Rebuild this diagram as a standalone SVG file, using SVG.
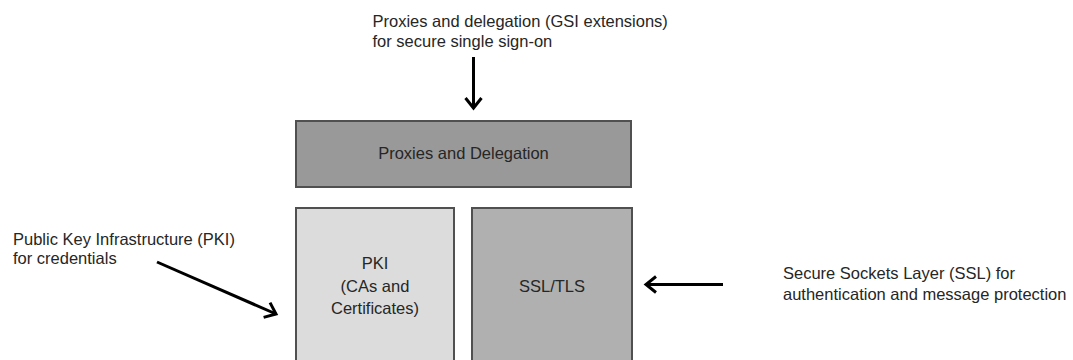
<svg xmlns="http://www.w3.org/2000/svg" width="1073" height="360" viewBox="0 0 1073 360">
  <style>
    .box { stroke: #505050; stroke-width: 2; }
    .label { font-family: "Liberation Sans", Arial, sans-serif; font-size: 16.5px; fill: #262626; }
    .mid { text-anchor: middle; }
    .conn { stroke: #000000; stroke-width: 3; fill: none; marker-end: url(#chevron); }
  </style>
  <defs>
    <marker id="chevron" markerUnits="userSpaceOnUse" markerWidth="24" markerHeight="24" viewBox="-14 -12 16 24" refX="0" refY="0" orient="auto">
      <path d="M-10,-8 L0,0 L-10,8" fill="none" stroke="#000000" stroke-width="3" stroke-linejoin="miter"/>
    </marker>
  </defs>
  <rect width="1073" height="360" fill="#ffffff"/>

  <!-- layer boxes -->
  <g id="proxies-delegation">
    <rect class="box" x="296" y="121" width="335" height="66" fill="#999999"/>
    <text class="label mid" x="463.5" y="159">Proxies and Delegation</text>
  </g>
  <g id="pki">
    <rect class="box" x="296" y="208" width="158" height="170" fill="#dcdcdc"/>
    <text class="label mid" x="375" y="269">PKI</text>
    <text class="label mid" x="375" y="291.5">(CAs and</text>
    <text class="label mid" x="375" y="314">Certificates)</text>
  </g>
  <g id="ssl-tls">
    <rect class="box" x="472" y="208" width="160" height="170" fill="#b0b0b0"/>
    <text class="label mid" x="552" y="292">SSL/TLS</text>
  </g>

  <!-- annotations -->
  <g id="note-gsi">
    <text class="label" x="372.5" y="27">Proxies and delegation (GSI extensions)</text>
    <text class="label" x="372.5" y="47">for secure single sign-on</text>
  </g>
  <g id="note-pki">
    <text class="label" x="13" y="245">Public Key Infrastructure (PKI)</text>
    <text class="label" x="13" y="264">for credentials</text>
  </g>
  <g id="note-ssl">
    <text class="label" x="783" y="278.5">Secure Sockets Layer (SSL) for</text>
    <text class="label" x="783" y="300">authentication and message protection</text>
  </g>

  <!-- connectors -->
  <g id="connectors">
    <line class="conn" x1="473.5" y1="57" x2="473.5" y2="108"/>
    <line class="conn" x1="157" y1="262" x2="276" y2="314"/>
    <line class="conn" x1="723" y1="284.5" x2="646" y2="284.5"/>
  </g>
</svg>
